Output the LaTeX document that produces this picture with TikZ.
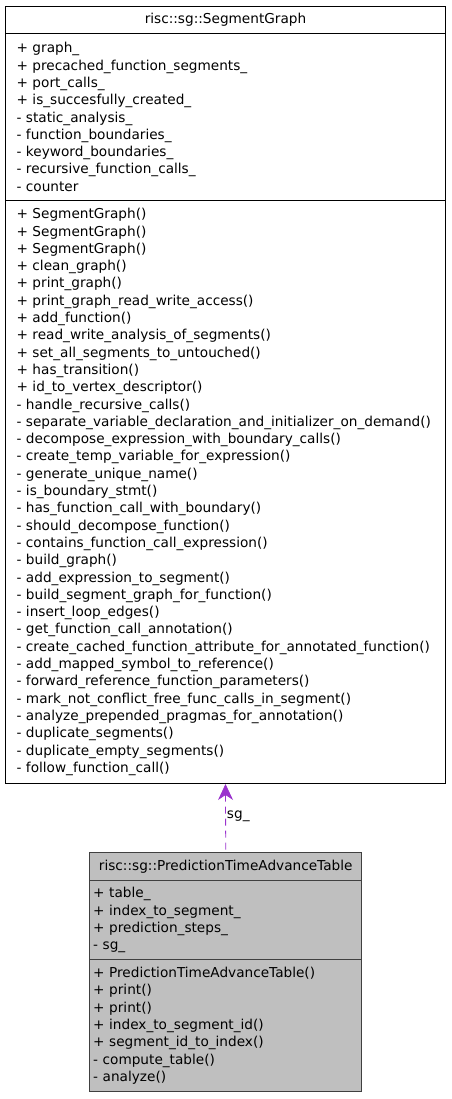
\documentclass[tikz,border=0pt]{standalone}
\usepackage{fontspec}
\setmainfont{DejaVu Sans}
\usepackage{tikz}
\usetikzlibrary{arrows.meta, positioning}
\definecolor{usagecol}{HTML}{9A32CD}
\definecolor{curfill}{HTML}{BFBFBF}

\begin{document}
\begin{tikzpicture}[
  x=1pt, y=-1pt,
  umlfont/.style={font=\fontsize{13.65}{17.3}\selectfont},
  part/.style={draw, rectangle, line width=1pt, anchor=north west,
               inner ysep=0pt, umlfont, align=left},
  bigpart/.style={part, minimum width=440pt, text width=418pt, inner xsep=11pt},
  curpart/.style={part, fill=curfill, draw=black!75, line width=1.4pt,
                  minimum width=272pt, text width=265pt, inner xsep=3.5pt},
  usage/.style={{Stealth[length=16pt, width=15pt, inset=5pt]}-, thick,
                usagecol, dash pattern=on 7pt off 5pt},
  lbl/.style={umlfont, text=black, inner sep=1pt}
]
\useasboundingbox (0,0) rectangle (451,1099);

%% SegmentGraph
\node[bigpart, minimum height=27pt, align=center] (sgtitle) at (5,6)
    {risc::sg::SegmentGraph};
\node[bigpart, minimum height=167pt] (sgattrs) at (5,33)
    {+ graph\_\\+ precached\_function\_segments\_\\+ port\_calls\_\\
     + is\_succesfully\_created\_\\- static\_analysis\_\\
     - function\_boundaries\_\\- keyword\_boundaries\_\\
     - recursive\_function\_calls\_\\- counter};
\node[bigpart, minimum height=583pt] (sgmethods) at (5,200)
    {+ SegmentGraph()\\+ SegmentGraph()\\+ SegmentGraph()\\+ clean\_graph()\\
     + print\_graph()\\+ print\_graph\_read\_write\_access()\\+ add\_function()\\
     + read\_write\_analysis\_of\_segments()\\+ set\_all\_segments\_to\_untouched()\\
     + has\_transition()\\+ id\_to\_vertex\_descriptor()\\
     - handle\_recursive\_calls()\\
     - separate\_variable\_declaration\_and\_initializer\_on\_demand()\\
     - decompose\_expression\_with\_boundary\_calls()\\
     - create\_temp\_variable\_for\_expression()\\- generate\_unique\_name()\\
     - is\_boundary\_stmt()\\- has\_function\_call\_with\_boundary()\\
     - should\_decompose\_function()\\- contains\_function\_call\_expression()\\
     - build\_graph()\\- add\_expression\_to\_segment()\\
     - build\_segment\_graph\_for\_function()\\- insert\_loop\_edges()\\
     - get\_function\_call\_annotation()\\
     - create\_cached\_function\_attribute\_for\_annotated\_function()\\
     - add\_mapped\_symbol\_to\_reference()\\
     - forward\_reference\_function\_parameters()\\
     - mark\_not\_conflict\_free\_func\_calls\_in\_segment()\\
     - analyze\_prepended\_pragmas\_for\_annotation()\\
     - duplicate\_segments()\\- duplicate\_empty\_segments()\\
     - follow\_function\_call()};

%% PredictionTimeAdvanceTable
\node[curpart, minimum height=28pt, align=center] (ptatitle) at (89,852)
    {risc::sg::PredictionTimeAdvanceTable};
\node[curpart, minimum height=79pt] (ptaattrs) at (89,880)
    {+ table\_\\+ index\_to\_segment\_\\+ prediction\_steps\_\\- sg\_};
\node[curpart, minimum height=132pt] (ptamethods) at (89,959)
    {+ PredictionTimeAdvanceTable()\\+ print()\\+ print()\\
     + index\_to\_segment\_id()\\+ segment\_id\_to\_index()\\
     - compute\_table()\\- analyze()};

%% usage
\draw[usage] (sgmethods.south) -- (ptatitle.north)
    node[pos=0.48, right, lbl] {sg\_};

\end{tikzpicture}
\end{document}
